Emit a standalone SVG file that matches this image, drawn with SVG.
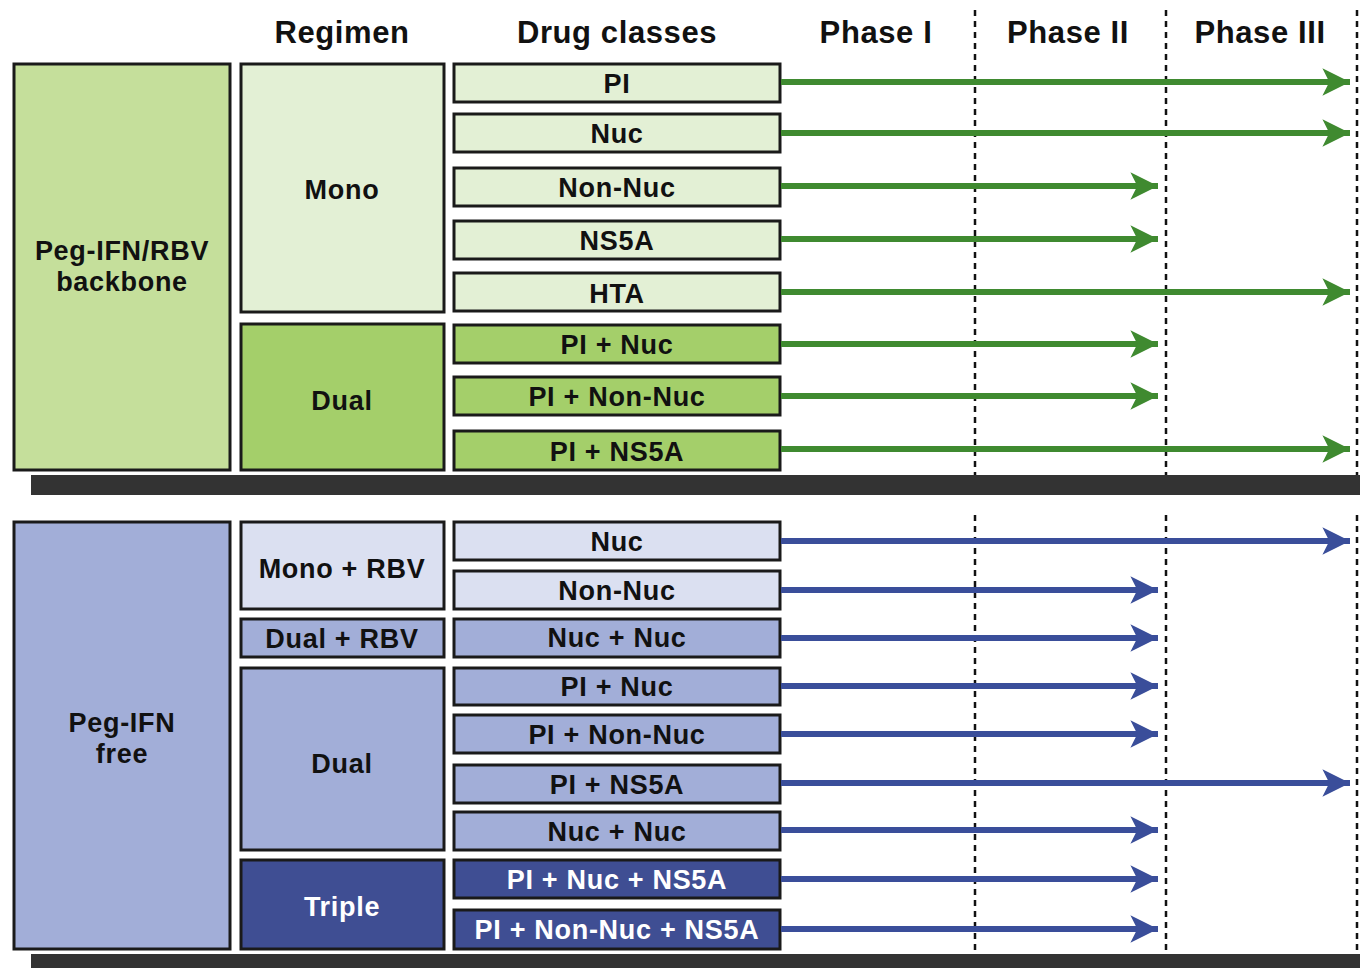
<svg xmlns="http://www.w3.org/2000/svg" width="1360" height="968" viewBox="0 0 1360 968">
<defs>
<style>
text{font-family:"Liberation Sans",Arial,sans-serif;font-weight:bold;text-anchor:middle;fill:#111}
.h{font-size:31px;letter-spacing:0.6px}
.t{font-size:27px;letter-spacing:0.7px}
.w{fill:#fff}
rect.b{stroke:#1a1a1a;stroke-width:3}
.g0{fill:#c5df9b}.g1{fill:#e3f0d5}.g2{fill:#a4cf6a}
.b0{fill:#a2aed8}.b1{fill:#dbe0f1}.b3{fill:#3f4e93}
.ag{stroke:#3f8a30;stroke-width:6;fill:none}
.ab{stroke:#3a4e9a;stroke-width:6;fill:none}
.dash{stroke:#111;stroke-width:2.5;stroke-dasharray:6,5}
</style>
<marker id="mg" viewBox="0 0 10 10" refX="10" refY="5" markerWidth="4.6" markerHeight="4.6" orient="auto" markerUnits="strokeWidth"><path d="M0,0 L10,5 L0,10 L2.5,5 Z" fill="#3f8a30"/></marker>
<marker id="mb" viewBox="0 0 10 10" refX="10" refY="5" markerWidth="4.6" markerHeight="4.6" orient="auto" markerUnits="strokeWidth"><path d="M0,0 L10,5 L0,10 L2.5,5 Z" fill="#3a4e9a"/></marker>
</defs>
<rect width="1360" height="968" fill="#fff"/>
<g id="headers">
<text class="h" x="342" y="43">Regimen</text>
<text class="h" x="617" y="43">Drug classes</text>
<text class="h" x="876" y="43">Phase I</text>
<text class="h" x="1068" y="43">Phase II</text>
<text class="h" x="1260" y="43">Phase III</text>
</g>
<g id="gridlines">
<line class="dash" x1="975" y1="10" x2="975" y2="475"/>
<line class="dash" x1="1166" y1="10" x2="1166" y2="475"/>
<line class="dash" x1="1357" y1="10" x2="1357" y2="475"/>
<line class="dash" x1="975" y1="515" x2="975" y2="953"/>
<line class="dash" x1="1166" y1="515" x2="1166" y2="953"/>
<line class="dash" x1="1357" y1="515" x2="1357" y2="953"/>
</g>
<g id="bars">
<rect x="31" y="475" width="1329" height="20" fill="#333"/>
<rect x="31" y="954" width="1329" height="14" fill="#333"/>
</g>
<g id="top-backbone"><rect class="b g0" x="14" y="64" width="216" height="406"/><text class="t" x="122" y="260">Peg-IFN/RBV</text><text class="t" x="122" y="291">backbone</text></g>
<g id="top-mono"><rect class="b g1" x="241" y="64" width="203" height="248"/><text class="t" x="342" y="199">Mono</text></g>
<g id="top-dual"><rect class="b g2" x="241" y="324" width="203" height="146"/><text class="t" x="342" y="410">Dual</text></g>
<g id="t-pi"><rect class="b g1" x="454" y="64" width="326" height="38"/><text class="t" x="617" y="93">PI</text></g>
<g id="t-nuc"><rect class="b g1" x="454" y="114" width="326" height="38"/><text class="t" x="617" y="143">Nuc</text></g>
<g id="t-nonnuc"><rect class="b g1" x="454" y="168" width="326" height="38"/><text class="t" x="617" y="197">Non-Nuc</text></g>
<g id="t-ns5a"><rect class="b g1" x="454" y="221" width="326" height="38"/><text class="t" x="617" y="250">NS5A</text></g>
<g id="t-hta"><rect class="b g1" x="454" y="273" width="326" height="38"/><text class="t" x="617" y="303">HTA</text></g>
<g id="t-pinuc"><rect class="b g2" x="454" y="325" width="326" height="38"/><text class="t" x="617" y="354">PI + Nuc</text></g>
<g id="t-pinonnuc"><rect class="b g2" x="454" y="377" width="326" height="38"/><text class="t" x="617" y="406">PI + Non-Nuc</text></g>
<g id="t-pins5a"><rect class="b g2" x="454" y="431" width="326" height="39"/><text class="t" x="617" y="461">PI + NS5A</text></g>
<g id="bot-free"><rect class="b b0" x="14" y="522" width="216" height="427"/><text class="t" x="122" y="732">Peg-IFN</text><text class="t" x="122" y="763">free</text></g>
<g id="bot-monorbv"><rect class="b b1" x="241" y="522" width="203" height="87"/><text class="t" x="342" y="578">Mono + RBV</text></g>
<g id="bot-dualrbv"><rect class="b b0" x="241" y="619" width="203" height="38"/><text class="t" x="342" y="648">Dual + RBV</text></g>
<g id="bot-dual"><rect class="b b0" x="241" y="668" width="203" height="182"/><text class="t" x="342" y="773">Dual</text></g>
<g id="bot-triple"><rect class="b b3" x="241" y="860" width="203" height="89"/><text class="t w" x="342" y="916">Triple</text></g>
<g id="b-nuc"><rect class="b b1" x="454" y="522" width="326" height="38"/><text class="t" x="617" y="551">Nuc</text></g>
<g id="b-nonnuc"><rect class="b b1" x="454" y="571" width="326" height="38"/><text class="t" x="617" y="600">Non-Nuc</text></g>
<g id="b-nucnuc1"><rect class="b b0" x="454" y="619" width="326" height="38"/><text class="t" x="617" y="647">Nuc + Nuc</text></g>
<g id="b-pinuc"><rect class="b b0" x="454" y="668" width="326" height="37"/><text class="t" x="617" y="696">PI + Nuc</text></g>
<g id="b-pinonnuc"><rect class="b b0" x="454" y="715" width="326" height="38"/><text class="t" x="617" y="744">PI + Non-Nuc</text></g>
<g id="b-pins5a"><rect class="b b0" x="454" y="765" width="326" height="38"/><text class="t" x="617" y="794">PI + NS5A</text></g>
<g id="b-nucnuc2"><rect class="b b0" x="454" y="812" width="326" height="38"/><text class="t" x="617" y="841">Nuc + Nuc</text></g>
<g id="b-pinucns5a"><rect class="b b3" x="454" y="860" width="326" height="38"/><text class="t w" x="617" y="889">PI + Nuc + NS5A</text></g>
<g id="b-pinonnucns5a"><rect class="b b3" x="454" y="910" width="326" height="39"/><text class="t w" x="617" y="939">PI + Non-Nuc + NS5A</text></g>
<g id="connectors">
<line class="ag" marker-end="url(#mg)" x1="781" y1="82" x2="1350" y2="82"/>
<line class="ag" marker-end="url(#mg)" x1="781" y1="133" x2="1350" y2="133"/>
<line class="ag" marker-end="url(#mg)" x1="781" y1="186" x2="1158" y2="186"/>
<line class="ag" marker-end="url(#mg)" x1="781" y1="239" x2="1158" y2="239"/>
<line class="ag" marker-end="url(#mg)" x1="781" y1="292" x2="1350" y2="292"/>
<line class="ag" marker-end="url(#mg)" x1="781" y1="344" x2="1158" y2="344"/>
<line class="ag" marker-end="url(#mg)" x1="781" y1="396" x2="1158" y2="396"/>
<line class="ag" marker-end="url(#mg)" x1="781" y1="449" x2="1350" y2="449"/>
<line class="ab" marker-end="url(#mb)" x1="781" y1="541" x2="1350" y2="541"/>
<line class="ab" marker-end="url(#mb)" x1="781" y1="590" x2="1158" y2="590"/>
<line class="ab" marker-end="url(#mb)" x1="781" y1="638" x2="1158" y2="638"/>
<line class="ab" marker-end="url(#mb)" x1="781" y1="686" x2="1158" y2="686"/>
<line class="ab" marker-end="url(#mb)" x1="781" y1="734" x2="1158" y2="734"/>
<line class="ab" marker-end="url(#mb)" x1="781" y1="783" x2="1350" y2="783"/>
<line class="ab" marker-end="url(#mb)" x1="781" y1="830" x2="1158" y2="830"/>
<line class="ab" marker-end="url(#mb)" x1="781" y1="879" x2="1158" y2="879"/>
<line class="ab" marker-end="url(#mb)" x1="781" y1="929" x2="1158" y2="929"/>
</g>
</svg>
